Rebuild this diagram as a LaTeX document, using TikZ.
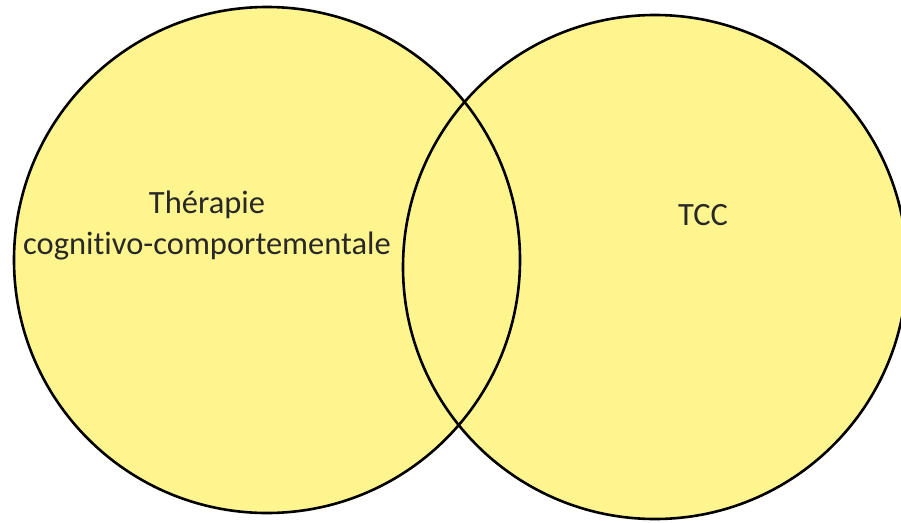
\documentclass[tikz,border=0pt]{standalone}
\usepackage{fontspec}
\setmainfont{Carlito}[Ligatures=NoCommon]
\definecolor{vennfill}{RGB}{255,245,143}
\definecolor{textgray}{RGB}{40,40,40}
\tikzset{
  vennset/.style={circle, fill=vennfill, inner sep=0pt},
  vennline/.style={circle, draw=black, line width=2.6pt, inner sep=0pt},
  lbl/.style={align=center, text=textgray, font=\fontsize{32.5}{41}\selectfont}
}
\begin{document}
\begin{tikzpicture}[x=1pt,y=-1pt]
\useasboundingbox (0,0) rectangle (901,522);
\node[vennset, minimum size=506pt] (A) at (267,260) {};
\node[vennset, minimum size=504pt] (B) at (655,267) {};
\node[vennline, minimum size=506pt] (Aline) at (267,260) {};
\node[vennline, minimum size=504pt] (Bline) at (655,267) {};
\node[lbl] (la) at (207,226) {Thérapie\\cognitivo-comportementale};
\node[lbl] (lb) at (703,215) {TCC};
\end{tikzpicture}
\end{document}
